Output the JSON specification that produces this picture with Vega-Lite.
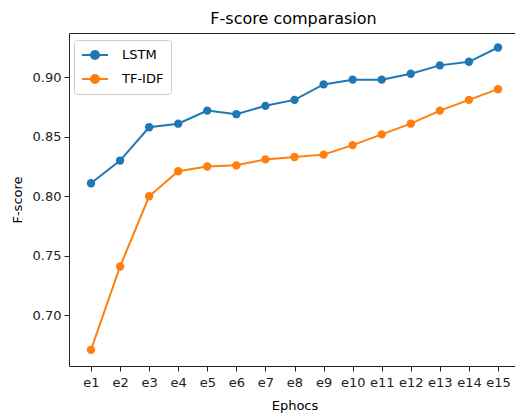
{
  "$schema": "https://vega.github.io/schema/vega-lite/v6.json",
  "width": 447,
  "height": 333,
  "autosize": {"type": "none"},
  "padding": {"left": 69, "top": 33, "right": 0, "bottom": 47},
  "title": {"text": "F-score comparasion", "fontSize": 16, "font": "DejaVu Sans", "fontWeight": "normal", "color": "#000", "offset": 6, "anchor": "middle", "dx": 1},
  "data": {
    "values": [
      {"epoch": "e1", "model": "LSTM", "value": 0.811},
      {"epoch": "e2", "model": "LSTM", "value": 0.830},
      {"epoch": "e3", "model": "LSTM", "value": 0.858},
      {"epoch": "e4", "model": "LSTM", "value": 0.861},
      {"epoch": "e5", "model": "LSTM", "value": 0.872},
      {"epoch": "e6", "model": "LSTM", "value": 0.869},
      {"epoch": "e7", "model": "LSTM", "value": 0.876},
      {"epoch": "e8", "model": "LSTM", "value": 0.881},
      {"epoch": "e9", "model": "LSTM", "value": 0.894},
      {"epoch": "e10", "model": "LSTM", "value": 0.898},
      {"epoch": "e11", "model": "LSTM", "value": 0.898},
      {"epoch": "e12", "model": "LSTM", "value": 0.903},
      {"epoch": "e13", "model": "LSTM", "value": 0.910},
      {"epoch": "e14", "model": "LSTM", "value": 0.913},
      {"epoch": "e15", "model": "LSTM", "value": 0.925},
      {"epoch": "e1", "model": "TF-IDF", "value": 0.671},
      {"epoch": "e2", "model": "TF-IDF", "value": 0.741},
      {"epoch": "e3", "model": "TF-IDF", "value": 0.800},
      {"epoch": "e4", "model": "TF-IDF", "value": 0.821},
      {"epoch": "e5", "model": "TF-IDF", "value": 0.825},
      {"epoch": "e6", "model": "TF-IDF", "value": 0.826},
      {"epoch": "e7", "model": "TF-IDF", "value": 0.831},
      {"epoch": "e8", "model": "TF-IDF", "value": 0.833},
      {"epoch": "e9", "model": "TF-IDF", "value": 0.835},
      {"epoch": "e10", "model": "TF-IDF", "value": 0.843},
      {"epoch": "e11", "model": "TF-IDF", "value": 0.852},
      {"epoch": "e12", "model": "TF-IDF", "value": 0.861},
      {"epoch": "e13", "model": "TF-IDF", "value": 0.872},
      {"epoch": "e14", "model": "TF-IDF", "value": 0.881},
      {"epoch": "e15", "model": "TF-IDF", "value": 0.890}
    ]
  },
  "encoding": {
    "x": {
      "field": "epoch", "type": "ordinal",
      "sort": ["e1","e2","e3","e4","e5","e6","e7","e8","e9","e10","e11","e12","e13","e14","e15"],
      "scale": {"type": "point", "range": [22, 429], "padding": 0},
      "axis": {"title": "Ephocs", "labelAngle": 0, "labelPadding": 5, "titlePadding": 10}
    },
    "y": {
      "field": "value", "type": "quantitative",
      "scale": {"domain": [0.6574, 0.9372], "zero": false, "nice": false},
      "axis": {"title": "F-score", "values": [0.70, 0.75, 0.80, 0.85, 0.90], "format": ".2f", "labelPadding": 3, "titlePadding": 8}
    },
    "color": {
      "field": "model", "type": "nominal",
      "scale": {"domain": ["LSTM", "TF-IDF"], "range": ["#1f77b4", "#ff7f0e"]},
      "legend": {
        "title": null, "orient": "none", "legendX": 5, "legendY": 7,
        "symbolType": "M-1.86,0H1.86M-0.57,0A0.57,0.57,0,1,1,0.57,0A0.57,0.57,0,1,1,-0.57,0Z",
        "symbolSize": 196, "symbolStrokeWidth": 2, "symbolOffset": 6,
        "labelFontSize": 13, "labelFont": "DejaVu Sans", "labelColor": "#000", "labelOffset": 19,
        "padding": 7, "rowPadding": 8, "strokeColor": "#cccccc", "fillColor": "#ffffff", "cornerRadius": 3
      }
    }
  },
  "layer": [
    {"mark": {"type": "line", "strokeWidth": 2}},
    {"mark": {"type": "point", "filled": true, "size": 70, "opacity": 1}}
  ],
  "config": {
    "view": {"stroke": "#222", "strokeWidth": 1},
    "font": "DejaVu Sans",
    "axis": {
      "domain": false, "grid": false, "tickColor": "#222", "tickSize": 5,
      "labelFont": "DejaVu Sans", "labelFontSize": 13, "labelColor": "#222",
      "titleFont": "DejaVu Sans", "titleFontSize": 13, "titleFontWeight": "normal", "titleColor": "#000"
    }
  }
}
